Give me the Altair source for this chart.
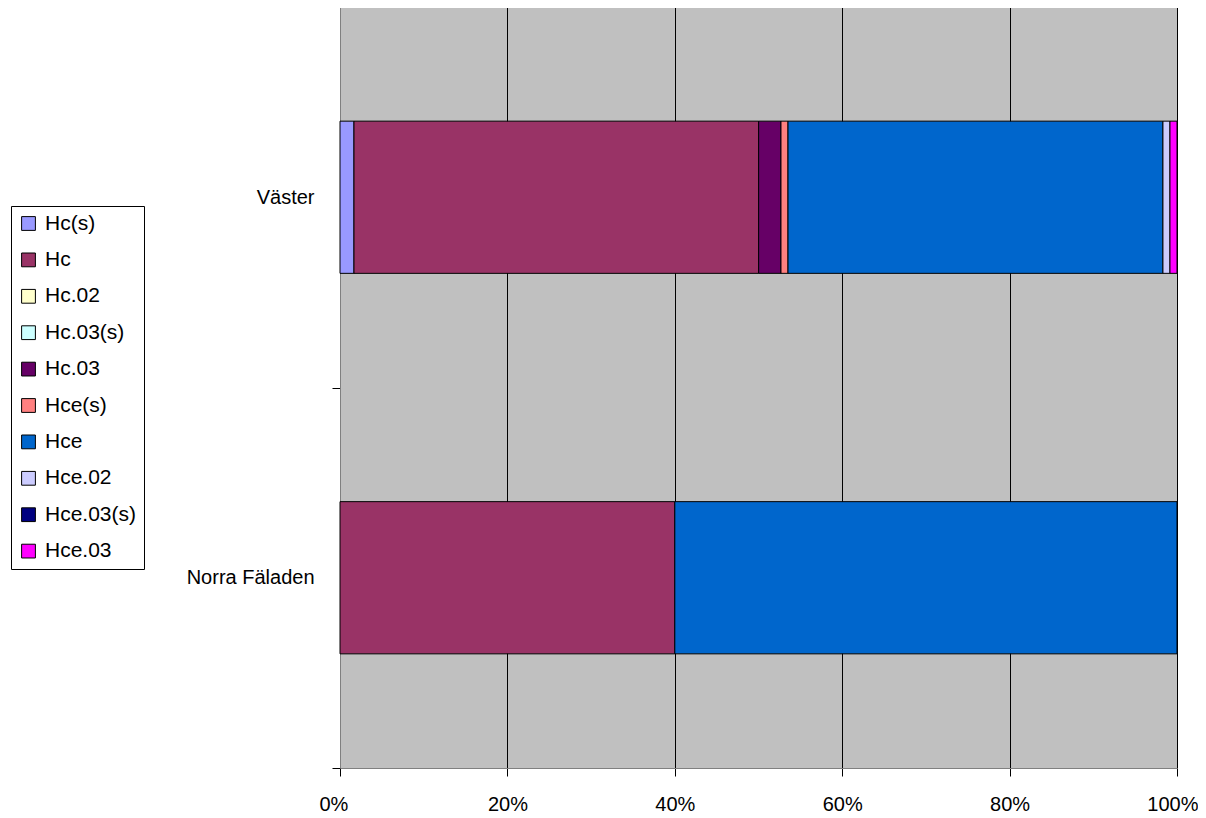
import altair as alt
import pandas as pd

areas = ["Väster", "Norra Fäladen"]
types = ["Hc(s)", "Hc", "Hc.02", "Hc.03(s)", "Hc.03", "Hce(s)", "Hce", "Hce.02", "Hce.03(s)", "Hce.03"]
colors = ["#9999FF", "#993366", "#FFFFCC", "#CCFFFF", "#660066", "#FF8080", "#0066CC", "#CCCCFF", "#000080", "#FF00FF"]
vaster = [1.67, 48.35, 0, 0, 2.67, 0.84, 44.8, 0.84, 0, 0.84]
norra = [0, 40, 0, 0, 0, 0, 60, 0, 0, 0]
x_ticks = [0, 0.2, 0.4, 0.6, 0.8, 1.0]

rows = []
for area, vals in zip(areas, [vaster, norra]):
    for i, (t, v) in enumerate(zip(types, vals)):
        if v > 0:
            rows.append({"area": area, "type": t, "value": v, "idx": i})
df = pd.DataFrame(rows)

FONT = "Liberation Sans"

chart = alt.Chart(df).mark_bar(stroke="black", strokeWidth=1, height={"band": 0.4}).encode(
    x=alt.X("value:Q", stack="normalize",
            scale=alt.Scale(domain=[0, 1], nice=False),
            axis=alt.Axis(title=None, values=x_ticks, format=".0%", grid=True,
                          gridColor="black", gridWidth=1, gridOpacity=1,
                          domainColor="#808080", tickColor="black", tickSize=8,
                          labelFlush=True, labelFlushOffset=21, labelOverlap=False,
                          labelPadding=18, labelFontSize=20, labelFont=FONT,
                          labelColor="black")),
    y=alt.Y("area:N", sort=areas,
            scale=alt.Scale(paddingInner=0, paddingOuter=0),
            axis=alt.Axis(title=None, tickBand="extent", grid=False,
                          domainColor="#808080", tickColor="black", tickSize=8,
                          labelPadding=18, labelFontSize=20, labelFont=FONT,
                          labelColor="black")),
    color=alt.Color("type:N", scale=alt.Scale(domain=types, range=colors),
                    legend=alt.Legend(title=None,
                                      orient="none", legendX=-329, legendY=199,
                                      symbolType="square", symbolSize=190,
                                      symbolStrokeColor="black", symbolStrokeWidth=1,
                                      symbolOpacity=1,
                                      labelFontSize=21, labelFont=FONT, labelColor="black",
                                      labelOffset=6, rowPadding=14.4,
                                      strokeColor="black", fillColor="white", padding=7)),
    order=alt.Order("idx:Q", sort="ascending"),
    tooltip=["area", "type", "value"],
).properties(
    width=837, height=761,
    padding={"left": 2, "top": -11, "right": 0, "bottom": 0},
).configure_view(
    fill="#C0C0C0", stroke=None
)

chart.save("out.html", embed_options={"renderer": "svg", "actions": False})
